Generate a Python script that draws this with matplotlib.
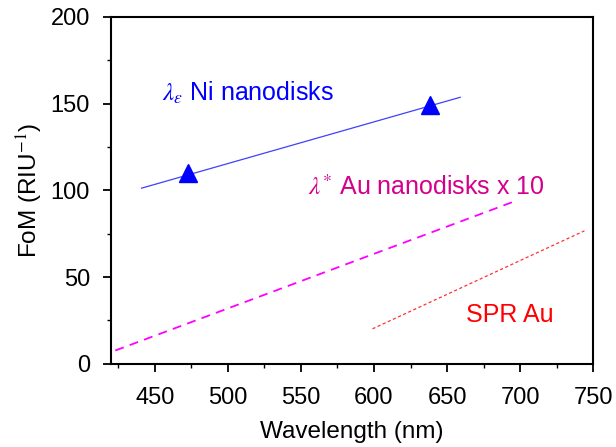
import matplotlib
matplotlib.use("Agg")
import matplotlib.pyplot as plt
from matplotlib.ticker import MultipleLocator

# Ni nanodisks (lambda_eps): fitted line + two measured points
ni_line_x = [441, 659]
ni_line_y = [101.3, 153.7]
ni_pts_x = [473, 638]
ni_pts_y = [110, 149.5]

# Au nanodisks (lambda*) x 10
au_line_x = [423, 695.5]
au_line_y = [7.7, 93.5]

# SPR Au
spr_line_x = [599, 744]
spr_line_y = [20.2, 76.7]

plt.rcParams["font.family"] = ["Liberation Sans", "DejaVu Sans"]
plt.rcParams["mathtext.fontset"] = "stix"

fig = plt.figure(figsize=(6.16, 4.47), dpi=100)
ax = fig.add_axes([0.180, 0.186, 0.783, 0.776])

ax.plot(ni_line_x, ni_line_y, color="#4040ff", lw=0.9)
ax.plot(ni_pts_x, ni_pts_y, ls="none", marker="^", ms=13, color="#0000ff",
        markeredgecolor="#0000ff")
ax.plot(au_line_x, au_line_y, color="#ff00ff", lw=1.3, ls=(0, (5, 3.5)))
ax.plot(spr_line_x, spr_line_y, color="#ff3030", lw=0.9, ls=(0, (2.5, 2)))

ax.text(455, 156, r"$\lambda_\varepsilon$ Ni nanodisks", color="#0000ff",
        fontsize=18, va="center")
ax.text(555, 101.5, r"$\lambda^{*}$ Au nanodisks x 10", color="#d4008c",
        fontsize=18, va="center")
ax.text(663, 28, "SPR Au", color="#ff0000", fontsize=18, va="center")

ax.set_xlim(420, 750)
ax.set_ylim(0, 200)
ax.xaxis.set_major_locator(MultipleLocator(50))
ax.xaxis.set_minor_locator(MultipleLocator(25))
ax.yaxis.set_major_locator(MultipleLocator(50))
ax.yaxis.set_minor_locator(MultipleLocator(25))
ax.tick_params(which="major", direction="out", length=6, width=1.3, labelsize=17)
ax.tick_params(which="minor", direction="out", length=3, width=1.0)
ax.tick_params(axis="x", which="major", pad=11)
ax.tick_params(axis="y", which="major", pad=9)
for s in ax.spines.values():
    s.set_linewidth(1.5)

ax.set_xlabel("Wavelength (nm)", fontsize=17.5, labelpad=8)
ax.set_ylabel(r"FoM (RIU$^{-1}$)", fontsize=17.5, labelpad=4)

fig.savefig("out.png", dpi=100)
